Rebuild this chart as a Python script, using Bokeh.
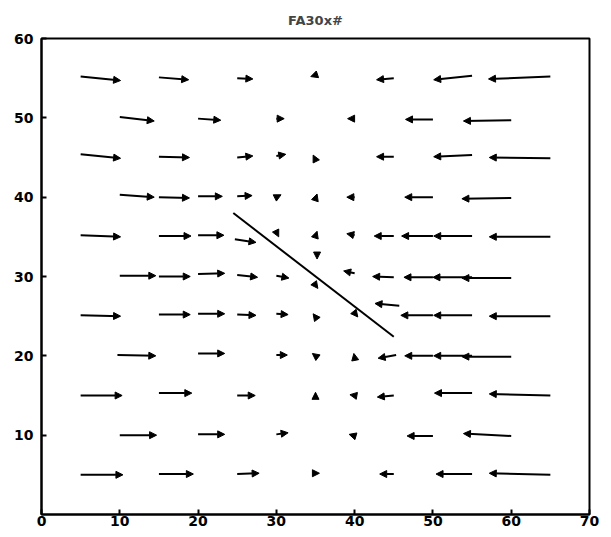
from bokeh.plotting import figure
from bokeh.models import ColumnDataSource, Arrow, NormalHead, FixedTicker, Range1d
from bokeh.embed import file_html
from bokeh.resources import INLINE

# Vector field: tail positions (x, y) and components (u, v)
x = [5, 15, 25, 35, 45, 55, 65,
     10, 20, 30, 40, 50, 60,
     5, 15, 25, 30, 35, 45, 55, 65,
     10, 15, 20, 25, 30, 35, 40, 50, 60,
     5, 15, 20, 24.7, 30, 35, 35.2, 40, 45, 50, 55, 65,
     10, 15, 20, 25, 30, 35, 40, 45, 50, 55, 60,
     5, 15, 20, 25, 30, 35, 40, 45.7, 50, 55, 65,
     9.7, 20, 30, 35, 40, 45.3, 50, 55, 60,
     5, 15, 25, 35, 40, 45, 55, 65,
     10, 20, 30, 40, 50, 60,
     5, 15, 25, 35, 45, 55, 65]
y = [55.2, 55.1, 55.0, 55.4, 55.0, 55.3, 55.2,
     50.1, 49.9, 49.9, 49.9, 49.8, 49.7,
     45.4, 45.1, 45.0, 45.2, 44.7, 45.1, 45.3, 44.9,
     40.3, 40.0, 40.1, 40.1, 40.0, 39.8, 40.0, 40.0, 39.9,
     35.2, 35.1, 35.2, 34.7, 35.6, 35.1, 32.8, 35.2, 35.1, 35.1, 35.1, 35.0,
     30.1, 30.0, 30.3, 30.2, 30.1, 28.9, 30.4, 29.9, 29.9, 29.9, 29.8,
     25.1, 25.2, 25.3, 25.2, 25.3, 24.9, 25.4, 26.3, 25.1, 25.1, 25.0,
     20.1, 20.3, 20.1, 20.0, 19.8, 20.1, 20.0, 20.0, 19.9,
     15.0, 15.3, 15.0, 14.9, 15.0, 15.0, 15.3, 15.0,
     10.0, 10.1, 10.1, 9.9, 9.9, 9.9,
     5.0, 5.1, 5.1, 5.2, 5.1, 5.1, 5.0]
u = [5.1, 3.8, 2.0, -0.6, -2.2, -4.9, -7.9,
     4.4, 2.9, 1.0, -0.9, -3.5, -6.1,
     5.1, 3.9, 2.0, 1.2, -0.3, -2.2, -4.9, -7.8,
     4.4, 3.9, 3.1, 1.9, 0.6, 0.2, -1.0, -3.6, -6.3,
     5.1, 4.1, 3.3, 2.7, 0.3, 0.2, 0.0, -1.0, -2.5, -4.0, -4.9, -7.8,
     4.6, 4.0, 3.4, 2.6, 1.6, 0.3, -1.4, -2.7, -3.7, -5.0, -6.3,
     5.1, 4.0, 3.4, 2.4, 1.5, -0.3, 0.4, -3.1, -4.1, -4.9, -7.8,
     4.9, 3.4, 1.4, -0.4, -0.1, -2.3, -3.6, -4.9, -6.3,
     5.3, 4.2, 2.3, 0.0, -0.6, -2.1, -4.8, -7.8,
     4.7, 3.4, 1.5, -0.7, -3.3, -6.1,
     5.4, 4.4, 2.8, 0.5, -1.8, -4.6, -7.8]
v = [-0.5, -0.3, -0.1, -0.2, -0.2, -0.5, -0.3,
     -0.5, -0.2, 0.0, 0.0, 0.0, -0.1,
     -0.5, -0.1, 0.2, 0.2, 0.6, 0.0, -0.2, 0.1,
     -0.3, -0.1, 0.0, 0.1, 0.3, 0.6, 0.0, 0.0, -0.1,
     -0.2, 0.0, 0.0, -0.4, -0.6, 0.6, -0.6, 0.2, 0.0, 0.0, 0.0, 0.0,
     0.0, 0.0, 0.1, -0.3, -0.3, -0.4, 0.3, 0.1, 0.0, 0.0, 0.0,
     -0.1, 0.0, 0.0, -0.1, -0.1, 0.4, -0.5, 0.3, 0.0, 0.0, 0.0,
     -0.1, 0.0, 0.0, 0.3, 0.5, -0.4, 0.0, 0.0, 0.0,
     0.0, 0.0, 0.0, 0.5, 0.1, -0.2, 0.0, 0.2,
     0.0, 0.0, 0.2, 0.2, 0.0, 0.3,
     0.0, 0.0, 0.1, 0.0, 0.0, 0.0, 0.2]

# Straight line across the field
line_x = [24.5, 45.0]
line_y = [38.0, 22.4]

x_ticks = [0, 10, 20, 30, 40, 50, 60, 70]
y_ticks = [10, 20, 30, 40, 50, 60]
title_text = "FA30x#"

p = figure(frame_width=548, frame_height=476, output_backend="svg", toolbar_location=None,
           x_range=Range1d(0, 70), y_range=Range1d(0, 60),
           min_border_left=41, min_border_right=14, min_border_top=5,
           min_border_bottom=18, title=title_text)
p.title.align = "center"
p.title.text_font = "DejaVu Sans"
p.title.text_font_size = "13px"
p.title.text_font_style = "bold"
p.title.standoff = 21

p.xgrid.visible = False
p.ygrid.visible = False
p.outline_line_color = "black"
p.outline_line_width = 2
p.background_fill_color = "white"

for ax, ticks in ((p.xaxis, x_ticks), (p.yaxis, y_ticks)):
    ax.ticker = FixedTicker(ticks=ticks)
    ax.major_tick_in = 5
    ax.major_tick_out = 0
    ax.minor_tick_line_color = None
    ax.axis_line_width = 2
    ax.major_tick_line_width = 2
    ax.major_label_text_font = "DejaVu Sans"
    ax.major_label_text_font_size = "14px"
    ax.major_label_text_font_style = "bold"
    ax.major_label_text_color = "black"
p.xaxis.major_label_standoff = 1
p.yaxis.major_label_standoff = 8

x1 = [a + b for a, b in zip(x, u)]
y1 = [a + b for a, b in zip(y, v)]
src = ColumnDataSource(dict(x0=x, y0=y, x1=x1, y1=y1))
p.add_layout(Arrow(x_start="x0", y_start="y0", x_end="x1", y_end="y1", source=src,
                   line_width=2, line_color="black",
                   end=NormalHead(size=7, fill_color="black", line_color="black", line_width=1)))

p.line(line_x, line_y, line_width=2, color="black")

open("out.html", "w").write(file_html(p, INLINE))
